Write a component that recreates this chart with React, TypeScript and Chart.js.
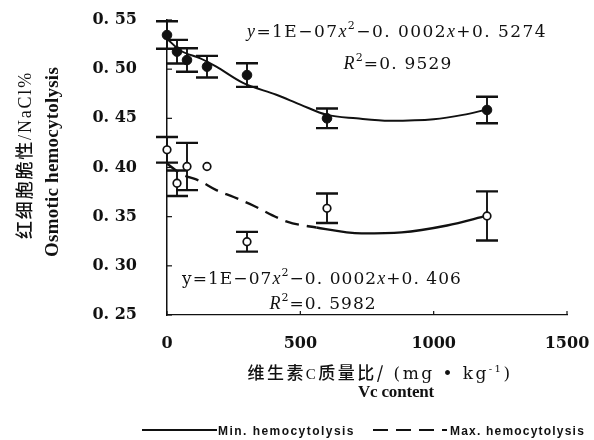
import React, { useEffect, useRef } from "react";
import { Chart, registerables } from "chart.js";

Chart.register(...registerables);

// ---- data ----
const doseX = [0, 37.5, 75, 150, 300, 600, 1200];
const minHemo = [0.5347, 0.5178, 0.5093, 0.5025, 0.494, 0.45, 0.4585];
const minErr = [0.014, 0.012, 0.012, 0.011, 0.012, 0.01, 0.0135];
const maxHemo = [0.418, 0.384, 0.401, 0.401, 0.3245, 0.3585, 0.3507];
const maxErr = [0.013, 0.013, 0.024, 0, 0.01, 0.015, 0.025];

const minTrendX = [0, 50, 125, 185, 285, 410, 500, 600, 710, 835, 1000, 1110, 1200];
const minTrendY = [0.531, 0.519, 0.511, 0.5025, 0.486, 0.474, 0.464, 0.4535, 0.45, 0.4475, 0.449, 0.4535, 0.459];
const maxTrendX = [0, 50, 125, 185, 250, 310, 450, 560, 730, 880, 1050, 1200];
const maxTrendY = [0.404, 0.394, 0.386, 0.377, 0.37, 0.363, 0.345, 0.339, 0.333, 0.334, 0.341, 0.351];

const xTicks = [0, 500, 1000, 1500];
const xTickLabels = ["0", "500", "1000", "1500"];
const yTicks = [0.25, 0.3, 0.35, 0.4, 0.45, 0.5, 0.55];
const yTickLabels = ["0. 25", "0. 30", "0. 35", "0. 40", "0. 45", "0. 50", "0. 55"];

const seriesNames = ["Min. hemocytolysis", "Max. hemocytolysis"];

type Part = { t: string; size: number; family: string; style?: string; weight?: string; dy?: number };

const SERIF = '"DejaVu Serif"';
const TIMES = '"Liberation Serif"';
const CJK = '"Noto Sans CJK SC"';
const SANS = '"Liberation Sans"';

function drawParts(ctx: CanvasRenderingContext2D, parts: Part[], cx: number, baseline: number, targetW?: number) {
  ctx.save();
  ctx.textAlign = "left";
  ctx.textBaseline = "alphabetic";
  ctx.fillStyle = "#111";
  const anyCtx = ctx as any;
  const hasLS = "letterSpacing" in anyCtx;
  const setFont = (p: Part) => {
    ctx.font = `${p.style || "normal"} ${p.weight || "normal"} ${p.size}px ${p.family}`;
  };
  if (hasLS) anyCtx.letterSpacing = "0px";
  let natural = 0;
  let chars = 0;
  const nat = parts.map((p) => {
    setFont(p);
    const w = ctx.measureText(p.t).width;
    natural += w;
    chars += Array.from(p.t).length;
    return w;
  });
  let spacing = 0;
  if (targetW && hasLS && chars > 1) spacing = (targetW - natural) / chars;
  const widths = parts.map((p, i) => nat[i] + Array.from(p.t).length * spacing);
  const total = widths.reduce((a, b) => a + b, 0);
  if (hasLS) anyCtx.letterSpacing = spacing + "px";
  let x = cx - total / 2;
  parts.forEach((p, i) => {
    setFont(p);
    ctx.fillText(p.t, x, baseline + (p.dy || 0));
    x += widths[i];
  });
  ctx.restore();
}

const decorPlugin = {
  id: "decor",
  beforeDatasetsDraw(chart: any) {
    const ctx: CanvasRenderingContext2D = chart.ctx;
    const xs = chart.scales.x;
    const ys = chart.scales.y;
    ctx.save();
    ctx.strokeStyle = "#111";
    const bars = [
      { v: minHemo, e: minErr },
      { v: maxHemo, e: maxErr },
    ];
    bars.forEach((b) => {
      doseX.forEach((xv, i) => {
        if (!b.e[i]) return;
        const px = xs.getPixelForValue(xv);
        const top = ys.getPixelForValue(b.v[i] + b.e[i]);
        const bot = ys.getPixelForValue(b.v[i] - b.e[i]);
        ctx.lineWidth = 1.9;
        ctx.beginPath();
        ctx.moveTo(px, top);
        ctx.lineTo(px, bot);
        ctx.stroke();
        ctx.lineWidth = 2.4;
        ctx.beginPath();
        ctx.moveTo(px - 11, top);
        ctx.lineTo(px + 11, top);
        ctx.moveTo(px - 11, bot);
        ctx.lineTo(px + 11, bot);
        ctx.stroke();
      });
    });
    ctx.restore();
  },
  afterDraw(chart: any) {
    const ctx: CanvasRenderingContext2D = chart.ctx;
    const xs = chart.scales.x;
    const ys = chart.scales.y;
    const area = chart.chartArea;
    ctx.save();
    ctx.strokeStyle = "#111";
    ctx.lineWidth = 1.2;
    // inward tick marks
    yTicks.forEach((v) => {
      const py = ys.getPixelForValue(v);
      ctx.beginPath();
      ctx.moveTo(area.left, py);
      ctx.lineTo(area.left + 5, py);
      ctx.stroke();
    });
    xTicks.forEach((v) => {
      const px = xs.getPixelForValue(v);
      ctx.beginPath();
      ctx.moveTo(px, area.bottom);
      ctx.lineTo(px, area.bottom - 4);
      ctx.stroke();
    });
    ctx.restore();

    // equations
    drawParts(ctx, [
      { t: "y", size: 18, family: TIMES, style: "italic" },
      { t: "=1E−07", size: 17, family: SERIF },
      { t: "x", size: 18, family: TIMES, style: "italic" },
      { t: "2", size: 11, family: SERIF, dy: -8 },
      { t: "−0. 0002", size: 17, family: SERIF },
      { t: "x", size: 18, family: TIMES, style: "italic" },
      { t: "+0. 5274", size: 17, family: SERIF },
    ], 397, 37, 300);
    drawParts(ctx, [
      { t: "R", size: 18, family: TIMES, style: "italic" },
      { t: "2", size: 11, family: SERIF, dy: -8 },
      { t: "=0. 9529", size: 17, family: SERIF },
    ], 398, 69, 109);
    drawParts(ctx, [
      { t: "y=1E−07", size: 17, family: SERIF },
      { t: "x", size: 18, family: TIMES, style: "italic" },
      { t: "2", size: 11, family: SERIF, dy: -8 },
      { t: "−0. 0002", size: 17, family: SERIF },
      { t: "x", size: 18, family: TIMES, style: "italic" },
      { t: "+0. 406", size: 17, family: SERIF },
    ], 322, 284, 280);
    drawParts(ctx, [
      { t: "R", size: 18, family: TIMES, style: "italic" },
      { t: "2", size: 11, family: SERIF, dy: -8 },
      { t: "=0. 5982", size: 17, family: SERIF },
    ], 323, 309, 107);

    // x axis title
    drawParts(ctx, [
      { t: "维生素", size: 17, family: CJK, weight: "500" },
      { t: "C", size: 15, family: TIMES },
      { t: "质量比/", size: 17, family: CJK, weight: "500" },
      { t: " (mg • kg", size: 17, family: SERIF },
      { t: "-1", size: 10, family: SERIF, dy: -7 },
      { t: ")", size: 17, family: SERIF },
    ], 380, 379, 265);
    drawParts(ctx, [{ t: "Vc content", size: 17, family: TIMES, weight: "bold" }], 396, 397, 76);

    // y axis title (rotated)
    ctx.save();
    ctx.translate(31, 155);
    ctx.rotate(-Math.PI / 2);
    drawParts(ctx, [
      { t: "红细胞脆性", size: 18, family: CJK, weight: "500" },
      { t: "/NaCl%", size: 18, family: TIMES },
    ], 0, 0, 168);
    ctx.restore();
    ctx.save();
    ctx.translate(58, 162);
    ctx.rotate(-Math.PI / 2);
    drawParts(ctx, [{ t: "Osmotic hemocytolysis", size: 19, family: TIMES, weight: "bold" }], 0, 0, 190);
    ctx.restore();

    // legend
    const ly = 430;
    ctx.save();
    ctx.strokeStyle = "#111";
    ctx.lineWidth = 2;
    ctx.beginPath();
    ctx.moveTo(142, ly);
    ctx.lineTo(217, ly);
    ctx.stroke();
    ctx.setLineDash([15, 8]);
    ctx.beginPath();
    ctx.moveTo(373, ly);
    ctx.lineTo(447, ly);
    ctx.stroke();
    ctx.restore();
    drawParts(ctx, [{ t: seriesNames[0], size: 12, family: SANS, weight: "bold" }], 286.5, ly + 4.5, 137);
    drawParts(ctx, [{ t: seriesNames[1], size: 12, family: SANS, weight: "bold" }], 517.5, ly + 4.5, 135);
  },
};

export default function App() {
  const ref = useRef<HTMLCanvasElement | null>(null);
  useEffect(() => {
    if (!ref.current) return;
    const solidFrom = 500;
    const chart = new Chart(ref.current, {
      type: "scatter",
      data: {
        datasets: [
          {
            label: "Min points",
            data: doseX.map((x, i) => ({ x, y: minHemo[i] })),
            pointRadius: 4.8,
            pointBackgroundColor: "#111",
            pointBorderColor: "#111",
            pointBorderWidth: 1,
            showLine: false,
            clip: false,
          } as any,
          {
            label: "Max points",
            data: doseX.map((x, i) => ({ x, y: maxHemo[i] })),
            pointRadius: 3.8,
            pointBackgroundColor: "#fff",
            pointBorderColor: "#111",
            pointBorderWidth: 1.7,
            showLine: false,
            clip: false,
          } as any,
          {
            type: "line",
            label: seriesNames[0],
            data: minTrendX.map((x, i) => ({ x, y: minTrendY[i] })),
            borderColor: "#111",
            borderWidth: 2,
            pointRadius: 0,
            fill: false,
            cubicInterpolationMode: "monotone",
            clip: false,
          } as any,
          {
            type: "line",
            label: seriesNames[1],
            data: maxTrendX.map((x, i) => ({ x, y: maxTrendY[i] })),
            borderColor: "#111",
            borderWidth: 2.4,
            borderDash: [14, 8],
            segment: {
              borderDash: (c: any) => (c.p0.parsed.x >= solidFrom ? [] : [14, 8]),
            },
            pointRadius: 0,
            fill: false,
            cubicInterpolationMode: "monotone",
            clip: false,
          } as any,
        ],
      },
      options: {
        animation: false,
        responsive: true,
        maintainAspectRatio: false,
        layout: { padding: { left: 0, right: 27, top: 20, bottom: 0 } },
        plugins: { legend: { display: false }, tooltip: { enabled: false } },
        scales: {
          x: {
            type: "linear",
            min: 0,
            max: 1500,
            afterBuildTicks: (s: any) => {
              s.ticks = xTicks.map((v) => ({ value: v }));
            },
            afterFit: (s: any) => {
              s.height = 125;
              s.paddingLeft = 0;
              s.paddingRight = 0;
            },
            ticks: {
              callback: (_v: any, i: number) => xTickLabels[i],
              font: { family: "DejaVu Serif", size: 16, weight: "bold" },
              color: "#111",
              padding: 19,
              maxRotation: 0,
              autoSkip: false,
            },
            grid: { display: false, drawTicks: false },
            border: { display: true, color: "#111", width: 1.2 },
          },
          y: {
            type: "linear",
            min: 0.25,
            max: 0.55,
            afterBuildTicks: (s: any) => {
              s.ticks = yTicks.map((v) => ({ value: v }));
            },
            afterFit: (s: any) => {
              s.width = 167;
              s.paddingTop = 0;
              s.paddingBottom = 0;
            },
            ticks: {
              callback: (_v: any, i: number) => yTickLabels[i],
              font: { family: "DejaVu Serif", size: 16, weight: "bold" },
              color: "#111",
              padding: 30,
              autoSkip: false,
            },
            grid: { display: false, drawTicks: false },
            border: { display: true, color: "#111", width: 1.5 },
          },
        },
      } as any,
      plugins: [decorPlugin],
    });
    return () => chart.destroy();
  }, []);
  return (
    <div style={{ position: "absolute", left: 0, top: 0, width: 594, height: 440, background: "#fff" }}>
      <canvas ref={ref} />
    </div>
  );
}
